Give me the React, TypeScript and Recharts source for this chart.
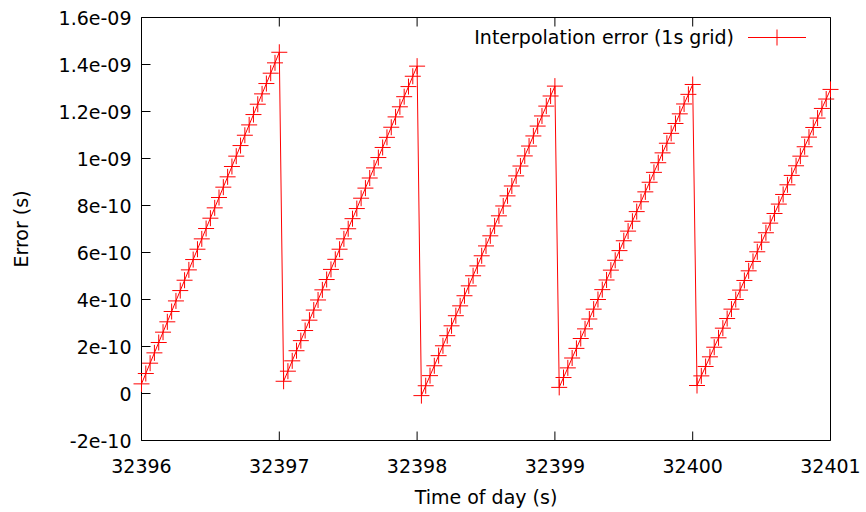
import { LineChart, Line, XAxis, YAxis, Legend } from "recharts";

// sample spacing of the error series (s)
const STEP = 1 / 32;
const SEGMENT_START = [32396, 32397 + STEP, 32398 + STEP, 32399 + STEP, 32400 + STEP];

// error values in units of 1e-10 s, one list per 1s grid interval
const SEG_1 = [
  0.41, 0.85, 1.29, 1.73, 2.17, 2.61, 3.05, 3.49, 3.94, 4.38, 4.82, 5.26, 5.7, 6.14, 6.58, 7.02, 7.46,
  7.9, 8.34, 8.78, 9.22, 9.66, 10.1, 10.55, 10.99, 11.43, 11.87, 12.31, 12.75, 13.19, 13.63, 14.07, 14.52,
];
const SEG_2 = [
  0.52, 0.95, 1.39, 1.82, 2.25, 2.68, 3.12, 3.55, 3.98, 4.41, 4.85, 5.28, 5.71, 6.14, 6.58, 7.01, 7.44,
  7.87, 8.31, 8.74, 9.17, 9.6, 10.04, 10.47, 10.9, 11.33, 11.77, 12.2, 12.63, 13.06, 13.5, 13.93,
];
const SEG_3 = [
  -0.09, 0.33, 0.76, 1.18, 1.61, 2.03, 2.46, 2.88, 3.31, 3.73, 4.16, 4.58, 5.01, 5.43, 5.86, 6.28, 6.71,
  7.13, 7.56, 7.98, 8.41, 8.83, 9.26, 9.68, 10.11, 10.53, 10.96, 11.38, 11.81, 12.23, 12.66, 13.08,
];
const SEG_4 = [
  0.26, 0.68, 1.09, 1.51, 1.92, 2.34, 2.75, 3.17, 3.59, 4.0, 4.42, 4.83, 5.25, 5.67, 6.08, 6.5, 6.91,
  7.33, 7.74, 8.16, 8.58, 8.99, 9.41, 9.82, 10.24, 10.65, 11.07, 11.49, 11.9, 12.32, 12.73, 13.15,
];
const SEG_5 = [
  0.34, 0.75, 1.15, 1.56, 1.97, 2.37, 2.78, 3.19, 3.59, 4.0, 4.4, 4.81, 5.22, 5.62, 6.03, 6.44, 6.84,
  7.25, 7.66, 8.06, 8.47, 8.88, 9.28, 9.69, 10.1, 10.5, 10.91, 11.32, 11.72, 12.13, 12.53, 12.94,
];
const SEGMENTS = [SEG_1, SEG_2, SEG_3, SEG_4, SEG_5];

const X_TICKS = [32396, 32397, 32398, 32399, 32400, 32401];
const Y_TICKS = [-2e-10, 0, 2e-10, 4e-10, 6e-10, 8e-10, 1e-9, 1.2e-9, 1.4e-9, 1.6e-9];
const Y_TICK_LABELS = ["-2e-10", "0", "2e-10", "4e-10", "6e-10", "8e-10", "1e-09", "1.2e-09", "1.4e-09", "1.6e-09"];

const SERIES_NAME = "Interpolation error (1s grid)";

const data = SEGMENTS.flatMap((seg, s) =>
  seg.map((v, i) => ({ t: SEGMENT_START[s] + i * STEP, err: v * 1e-10 }))
);

const FONT = "'DejaVu Sans', sans-serif";
const FS = 19;
const RED = "#ff0000";
const TICK = 9;

const Cross = ({ cx, cy, size = 8 }: any) => {
  if (cx == null || cy == null) return null;
  return (
    <g>
      <line x1={cx - size} x2={cx + size} y1={cy} y2={cy} stroke={RED} strokeWidth={1} />
      <line x1={cx} x2={cx} y1={cy - size} y2={cy + size} stroke={RED} strokeWidth={1} />
    </g>
  );
};

const BottomTick = ({ x, y, payload }: any) => (
  <g>
    <line x1={x} x2={x} y1={y} y2={y - TICK} stroke="#000" />
    <text x={x} y={y + 32} textAnchor="middle" fontFamily={FONT} fontSize={FS} fill="#000">
      {payload.value}
    </text>
  </g>
);

const TopTick = ({ x, y }: any) => <line x1={x} x2={x} y1={y} y2={y + TICK} stroke="#000" />;

const LeftTick = ({ x, y, payload }: any) => {
  const idx = Y_TICKS.findIndex((v) => Math.abs(v - payload.value) < 1e-13);
  return (
    <g>
      <line x1={x} x2={x + TICK} y1={y} y2={y} stroke="#000" />
      <text x={x - 10} y={y + 7} textAnchor="end" fontFamily={FONT} fontSize={FS} fill="#000">
        {Y_TICK_LABELS[idx]}
      </text>
    </g>
  );
};

const RightTick = ({ x, y }: any) => <line x1={x} x2={x - TICK} y1={y} y2={y} stroke="#000" />;

const renderLegend = () => (
  <svg width={866} height={30} style={{ display: "block" }}>
    <text x={734} y={22} textAnchor="end" fontFamily={FONT} fontSize={FS} fill="#000">
      {SERIES_NAME}
    </text>
    <line x1={748} x2={806} y1={15.5} y2={15.5} stroke={RED} />
    <Cross cx={777} cy={15.5} />
  </svg>
);

const axisCommon = {
  tickSize: 0,
  tickMargin: 0,
  tickLine: false,
  axisLine: { stroke: "#000" },
  type: "number" as const,
};

export default function App() {
  return (
    <div style={{ position: "fixed", left: 0, top: 0, width: 866, height: 512, background: "#fff" }}>
      <LineChart
        width={866}
        height={512}
        data={data}
        margin={{ top: 16.5, right: 34.5, bottom: 70.5, left: 140.5 }}
      >
        <XAxis
          {...axisCommon}
          xAxisId="b"
          dataKey="t"
          domain={[32396, 32401]}
          ticks={X_TICKS}
          height={1}
          tick={<BottomTick />}
          label={{
            content: ({ viewBox }: any) => (
              <text
                x={viewBox.x + viewBox.width / 2}
                y={viewBox.y + 63}
                textAnchor="middle"
                fontFamily={FONT}
                fontSize={FS}
                fill="#000"
              >
                Time of day (s)
              </text>
            ),
          }}
        />
        <XAxis
          {...axisCommon}
          xAxisId="t"
          orientation="top"
          dataKey="t"
          domain={[32396, 32401]}
          ticks={X_TICKS}
          height={1}
          tick={<TopTick />}
        />
        <YAxis
          {...axisCommon}
          yAxisId="l"
          domain={[-2e-10, 1.6e-9]}
          ticks={Y_TICKS}
          width={1}
          tick={<LeftTick />}
          label={{
            content: ({ viewBox }: any) => {
              const cx = 28;
              const cy = viewBox.y + viewBox.height / 2;
              return (
                <text
                  x={cx}
                  y={cy}
                  transform={`rotate(-90 ${cx} ${cy})`}
                  textAnchor="middle"
                  fontFamily={FONT}
                  fontSize={FS}
                  fill="#000"
                >
                  Error (s)
                </text>
              );
            },
          }}
        />
        <YAxis
          {...axisCommon}
          yAxisId="r"
          orientation="right"
          domain={[-2e-10, 1.6e-9]}
          ticks={Y_TICKS}
          width={1}
          tick={<RightTick />}
        />
        <Legend
          verticalAlign="middle"
          layout="horizontal"
          content={renderLegend}
          wrapperStyle={{ top: 22, left: 0, width: 866, height: 30 }}
        />
        <Line
          xAxisId="b"
          yAxisId="l"
          dataKey="err"
          name={SERIES_NAME}
          stroke={RED}
          strokeWidth={1}
          dot={<Cross />}
          activeDot={false}
          isAnimationActive={false}
        />
      </LineChart>
    </div>
  );
}
